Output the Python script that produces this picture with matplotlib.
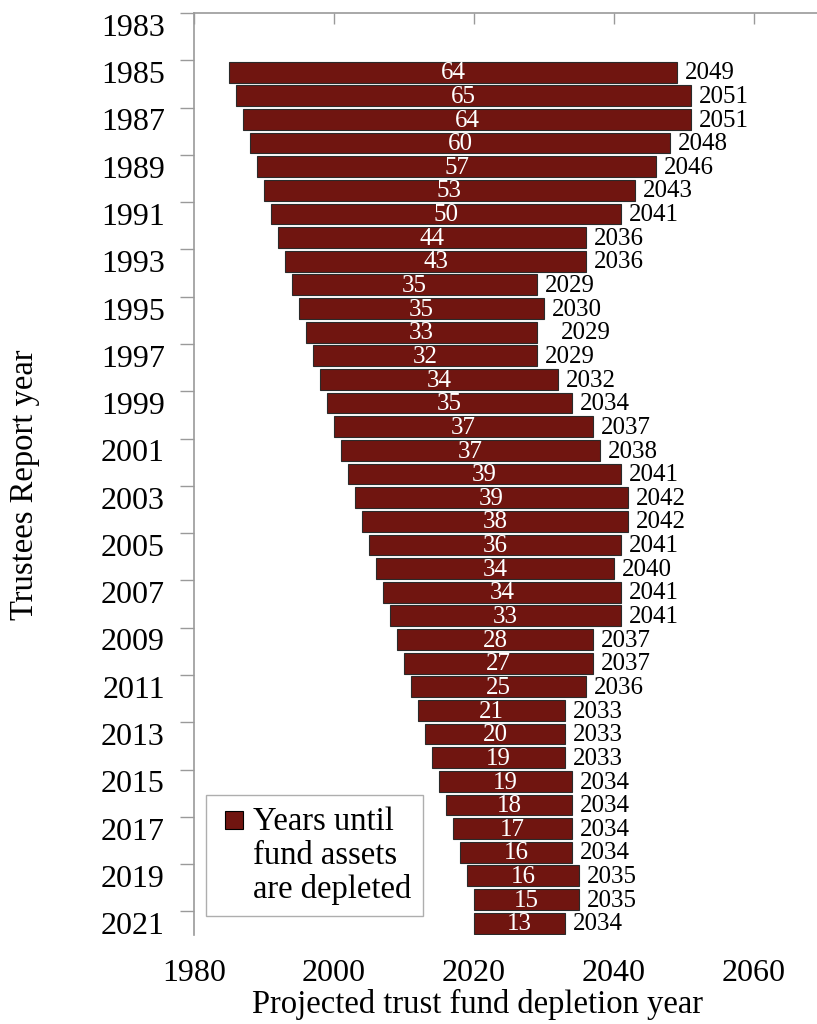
import matplotlib
matplotlib.use("Agg")
import matplotlib.pyplot as plt
from matplotlib.lines import Line2D
import numpy as np

plt.rcParams['font.family'] = ['Liberation Serif', 'DejaVu Serif']

# ---------------- data ----------------
report_years = [1985, 1986, 1987, 1988, 1989, 1990, 1991, 1992, 1993, 1994,
                1995, 1996, 1997, 1998, 1999, 2000, 2001, 2002, 2003, 2004,
                2005, 2006, 2007, 2008, 2009, 2010, 2011, 2012, 2013, 2014,
                2015, 2016, 2017, 2018, 2019, 2020, 2021]
# bar start as drawn in the original (the 2021 bar starts at 2020)
bar_start = [1985, 1986, 1987, 1988, 1989, 1990, 1991, 1992, 1993, 1994,
             1995, 1996, 1997, 1998, 1999, 2000, 2001, 2002, 2003, 2004,
             2005, 2006, 2007, 2008, 2009, 2010, 2011, 2012, 2013, 2014,
             2015, 2016, 2017, 2018, 2019, 2020, 2020]
years_until = [64, 65, 64, 60, 57, 53, 50, 44, 43, 35,
               35, 33, 32, 34, 35, 37, 37, 39, 39, 38,
               36, 34, 34, 33, 28, 27, 25, 21, 20, 19,
               19, 18, 17, 16, 16, 15, 13]
depletion_years = [2049, 2051, 2051, 2048, 2046, 2043, 2041, 2036, 2036, 2029,
                   2030, 2029, 2029, 2032, 2034, 2037, 2038, 2041, 2042, 2042,
                   2041, 2040, 2041, 2041, 2037, 2037, 2036, 2033, 2033, 2033,
                   2034, 2034, 2034, 2034, 2035, 2035, 2034]
x_ticks = [1980, 2000, 2020, 2040, 2060]
y_tick_labels = list(range(1983, 2022, 2))
legend_label = "Years until\nfund assets\nare depleted"
x_label = "Projected trust fund depletion year"
y_label = "Trustees Report year"

# ---------------- style ----------------
BAR_COLOR = "#701510"
SPINE_COLOR = "#9a9a9a"
TICK_FS = 23
AXLABEL_FS = 23.5
LABEL_FS = 18

fig = plt.figure(figsize=(8.17, 10.24), dpi=100)
ax = fig.add_axes([194/817, 1 - 935/1024, 1 - 194/817, (935 - 13)/1024])

ax.barh(report_years, years_until, left=bar_start, height=0.88,
        color=BAR_COLOR, edgecolor="#2a2a2a", linewidth=0.8, zorder=3)

label_nudge = {1996: 2.2}
for ry, st, w, dep in zip(report_years, bar_start, years_until, depletion_years):
    ax.text(st + w / 2, ry + 0.05, str(w), ha="center", va="center",
            color="white", fontsize=LABEL_FS, zorder=4)
    ax.annotate(str(dep), xy=(st + w + label_nudge.get(ry, 0), ry + 0.05),
                xytext=(6, 0), textcoords="offset points",
                ha="left", va="center", fontsize=LABEL_FS, color="black")

ax.set_xlim(1980, 1980 + (817 - 194) / 7.0)
ax.set_ylim(2021.5, 1982.5)

# x axis: tick marks on top spine, labels at bottom
ax.set_xticks(x_ticks)
ax.set_xticklabels([str(v) for v in x_ticks])
ax.tick_params(axis="x", which="major", bottom=False, top=True,
               labelbottom=True, labeltop=False, direction="in",
               length=8, width=1, color=SPINE_COLOR,
               labelsize=TICK_FS, pad=17)

# y axis: labels at category centres, ticks between categories
ax.set_yticks(y_tick_labels)
ax.set_yticklabels([str(v) for v in y_tick_labels])
ax.set_yticks(np.arange(1982.5, 2021, 2), minor=True)
ax.tick_params(axis="y", which="major", length=0, labelsize=TICK_FS, pad=21)
ax.tick_params(axis="y", which="minor", length=10, width=1,
               color=SPINE_COLOR, direction="out")

for side in ["bottom", "right"]:
    ax.spines[side].set_visible(False)
for side in ["top", "left"]:
    ax.spines[side].set_color(SPINE_COLOR)
    ax.spines[side].set_linewidth(1.2)

ax.set_xlabel(x_label, fontsize=AXLABEL_FS)
ax.xaxis.label.set_va("center")
ax.xaxis.set_label_coords((478 - 194) / 623, (935 - 1004) / 922)
ax.set_ylabel(y_label, fontsize=AXLABEL_FS)
ax.yaxis.label.set_va("center")
ax.yaxis.set_label_coords((25 - 194) / 623, (935 - 485) / 922)

handle = Line2D([], [], linestyle="none", marker="s", markersize=13,
                markerfacecolor=BAR_COLOR, markeredgecolor="black",
                markeredgewidth=0.8)
leg = ax.legend([handle], [legend_label], loc="lower left",
                bbox_to_anchor=((206 - 194) / 623, (935 - 916) / 922),
                fontsize=AXLABEL_FS, frameon=True, fancybox=False,
                handlelength=1.0, handleheight=1.1, handletextpad=0.1,
                borderpad=0.35, labelspacing=0.2, borderaxespad=0)
leg.get_frame().set_edgecolor(SPINE_COLOR)
leg.get_frame().set_linewidth(1.0)
for t in leg.get_texts():
    t.set_linespacing(1.12)
# put the legend swatch level with the first line of text
for col in leg._legend_handle_box.get_children():
    for item in col.get_children():
        item.align = "top"

fig.savefig("out.png", dpi=100)
